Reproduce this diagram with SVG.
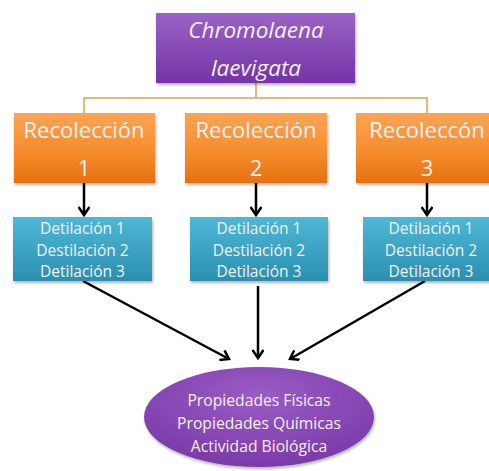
<svg xmlns="http://www.w3.org/2000/svg" width="489" height="471" viewBox="0 0 489 471">
<defs>
<linearGradient id="gPurple" x1="0" y1="0" x2="0" y2="1"><stop offset="0" stop-color="#9a63c4"/><stop offset="1" stop-color="#7433a6"/></linearGradient>
<linearGradient id="gOrange" x1="0" y1="0" x2="0" y2="1"><stop offset="0" stop-color="#fba556"/><stop offset="0.6" stop-color="#f58a2a"/><stop offset="1" stop-color="#e4700f"/></linearGradient>
<linearGradient id="gBlue" x1="0" y1="0" x2="0" y2="1"><stop offset="0" stop-color="#4fb8d6"/><stop offset="1" stop-color="#2a8fb0"/></linearGradient>
<radialGradient id="gEll" cx="0.5" cy="0.3" r="0.7"><stop offset="0" stop-color="#9a5cc4"/><stop offset="1" stop-color="#7a3aa8"/></radialGradient>
<filter id="sh" x="-10%" y="-10%" width="120%" height="130%"><feDropShadow dx="1" dy="2" stdDeviation="1.5" flood-color="#000" flood-opacity="0.3"/></filter>
<marker id="ah" markerWidth="12" markerHeight="12" refX="9" refY="6" orient="auto" markerUnits="userSpaceOnUse">
<path d="M1,0.5 L9,6 L1,11.5" fill="none" stroke="#000" stroke-width="2.5"/>
</marker>
</defs>
<style>
.t{font-family:"Open Sans","Liberation Sans",sans-serif;fill:#f4f0f6;text-anchor:middle;dominant-baseline:central}
.title{font-size:22.5px;font-style:italic}
.rec{font-size:22px}
.dest{font-size:15.5px}
.res{font-size:15.7px}
.con{stroke:#000;stroke-width:2.5;fill:none;marker-end:url(#ah)}
.org{stroke:#f29a4e;stroke-width:1.5;fill:none}
</style>
<g id="connectors">
<path class="org" d="M256,83 V98 M84,113 V98 H427 V113"/>
<line class="con" x1="84" y1="183" x2="84" y2="215"/>
<line class="con" x1="256" y1="183" x2="256" y2="215"/>
<line class="con" x1="427" y1="183" x2="427" y2="215"/>
<line class="con" x1="83" y1="281" x2="229" y2="359"/>
<line class="con" x1="258" y1="286" x2="258" y2="358"/>
<line class="con" x1="425" y1="281" x2="290" y2="359"/>
</g>
<g id="species">
<rect x="156" y="13" width="199" height="70" fill="url(#gPurple)" filter="url(#sh)"/>
<text class="t title" x="256" y="29">Chromolaena</text>
<text class="t title" x="256" y="67">laevigata</text>
</g>
<g id="rec1">
<rect x="14" y="113" width="141" height="70" fill="url(#gOrange)" filter="url(#sh)"/>
<text class="t rec" x="84" y="129">Recolección</text>
<text class="t rec" x="84" y="167">1</text>
</g>
<g id="rec2">
<rect x="185" y="113" width="142" height="70" fill="url(#gOrange)" filter="url(#sh)"/>
<text class="t rec" x="256" y="129">Recolección</text>
<text class="t rec" x="256" y="167">2</text>
</g>
<g id="rec3">
<rect x="356" y="113" width="142" height="70" fill="url(#gOrange)" filter="url(#sh)"/>
<text class="t rec" x="427" y="129">Recoleccón</text>
<text class="t rec" x="427" y="167">3</text>
</g>
<g id="dest1">
<rect x="13" y="217" width="139" height="64" fill="url(#gBlue)" filter="url(#sh)"/>
<text class="t dest" x="82.5" y="228">Detilación 1</text>
<text class="t dest" x="82.5" y="250">Destilación 2</text>
<text class="t dest" x="82.5" y="271">Detilación 3</text>
</g>
<g id="dest2">
<rect x="190" y="217" width="138" height="64" fill="url(#gBlue)" filter="url(#sh)"/>
<text class="t dest" x="259" y="228">Detilación 1</text>
<text class="t dest" x="259" y="250">Destilación 2</text>
<text class="t dest" x="259" y="271">Detilación 3</text>
</g>
<g id="dest3">
<rect x="363" y="217" width="139" height="64" fill="url(#gBlue)" filter="url(#sh)"/>
<text class="t dest" x="431" y="228">Detilación 1</text>
<text class="t dest" x="431" y="250">Destilación 2</text>
<text class="t dest" x="431" y="271">Detilación 3</text>
</g>
<g id="results">
<ellipse cx="259" cy="417" rx="115" ry="50" fill="url(#gEll)" filter="url(#sh)"/>
<text class="t res" x="259" y="400">Propiedades Físicas</text>
<text class="t res" x="259" y="423">Propiedades Químicas</text>
<text class="t res" x="259" y="446">Actividad Biológica</text>
</g>
</svg>
